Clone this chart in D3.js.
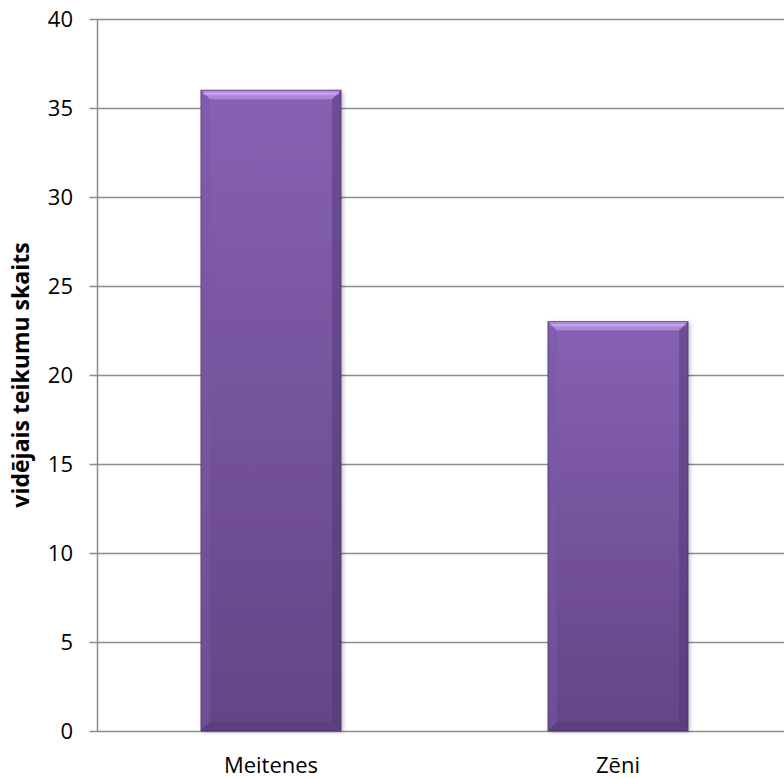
<!DOCTYPE html>
<html><head><meta charset="utf-8">
<script src="https://cdn.jsdelivr.net/npm/d3@7"></script>
<style>body{margin:0;background:#fff;}svg{display:block;font-family:"Open Sans",sans-serif;}</style>
</head><body>
<svg id="c" width="784" height="778"></svg>
<script>
const categories = ["Meitenes", "Zēni"];
const values = [36, 23];
const yTicks = [0, 5, 10, 15, 20, 25, 30, 35, 40];
const yTitle = "vidējais teikumu skaits";

const svg = d3.select("#c");
const pLeft = 97.5, pRight = 791.5, pTop = 19, pBottom = 731;
const x = d3.scaleBand().domain(categories).range([pLeft, pRight]).paddingInner(0).paddingOuter(0);
const y = d3.scaleLinear().domain([0, 40]).range([pBottom, pTop]);

const defs = svg.append("defs");
const g = defs.append("linearGradient").attr("id","bg").attr("x1",0).attr("y1",0).attr("x2",0).attr("y2",1);
g.append("stop").attr("offset","0%").attr("stop-color","#8761B3");
g.append("stop").attr("offset","100%").attr("stop-color","#634585");
const sh = defs.append("filter").attr("id","sh").attr("x","-10%").attr("y","-5%").attr("width","130%").attr("height","115%");
sh.append("feDropShadow").attr("dx",2).attr("dy",1).attr("stdDeviation",2).attr("flood-color","#000").attr("flood-opacity",0.25);

svg.append("g").selectAll("line").data(yTicks).join("line")
  .attr("x1", pLeft - 8).attr("x2", 784)
  .attr("y1", d => Math.round(y(d)) + 0.5).attr("y2", d => Math.round(y(d)) + 0.5)
  .attr("stroke", "#8c8c8c").attr("stroke-width", 1.5);
svg.append("line").attr("x1", pLeft).attr("x2", pLeft).attr("y1", pTop).attr("y2", pBottom + 0.5)
  .attr("stroke", "#8c8c8c").attr("stroke-width", 1.5);

svg.append("g").selectAll("text").data(yTicks).join("text")
  .attr("x", 73).attr("y", d => y(d)).attr("dy", "0.36em")
  .attr("text-anchor", "end").attr("font-size", 22).attr("fill", "#000")
  .text(d => d);

const bw = x.step() * 0.404;
const bars = svg.append("g").selectAll("g").data(values).join("g")
  .attr("transform", (d, i) => `translate(${x(categories[i]) + x.step()/2 - bw/2},${y(d)})`);
bars.append("rect").attr("width", bw).attr("height", d => pBottom - y(d))
  .attr("fill", "url(#bg)").attr("filter", "url(#sh)");
const bev = 9;
bars.append("polygon").attr("points", d => `0,0 ${bw},0 ${bw-bev},${bev} ${bev},${bev}`)
  .attr("fill", "#B18EDB").attr("opacity", 0.85);
bars.append("rect").attr("x", 2).attr("y", 2).attr("width", bw - 4).attr("height", 3).attr("fill", "#CBA8F2").attr("opacity", 0.8);
bars.append("polygon").attr("points", d => { const h = pBottom - y(d); return `0,0 ${bev},${bev} ${bev},${h-bev} 0,${h}`; })
  .attr("fill", "#7a57a6").attr("opacity", 0.5);
bars.append("polygon").attr("points", d => { const h = pBottom - y(d); return `${bw},0 ${bw},${h} ${bw-bev},${h-bev} ${bw-bev},${bev}`; })
  .attr("fill", "#4e3570").attr("opacity", 0.45);
bars.append("polygon").attr("points", d => { const h = pBottom - y(d); return `0,${h} ${bw},${h} ${bw-bev},${h-bev} ${bev},${h-bev}`; })
  .attr("fill", "#54397a").attr("opacity", 0.5);
bars.append("rect").attr("width", bw).attr("height", d => pBottom - y(d))
  .attr("fill", "none").attr("stroke", "#3f2a5c").attr("stroke-width", 1).attr("stroke-opacity", 0.6);

svg.append("g").selectAll("text").data(categories).join("text")
  .attr("x", d => x(d) + x.step()/2).attr("y", 773)
  .attr("text-anchor", "middle").attr("font-size", 22).attr("fill", "#000")
  .text(d => d);

svg.append("text").attr("transform", `translate(29,375) rotate(-90)`)
  .attr("text-anchor", "middle").attr("font-size", 23).attr("font-weight", "bold").attr("fill", "#000")
  .text(yTitle);
</script>
</body></html>
